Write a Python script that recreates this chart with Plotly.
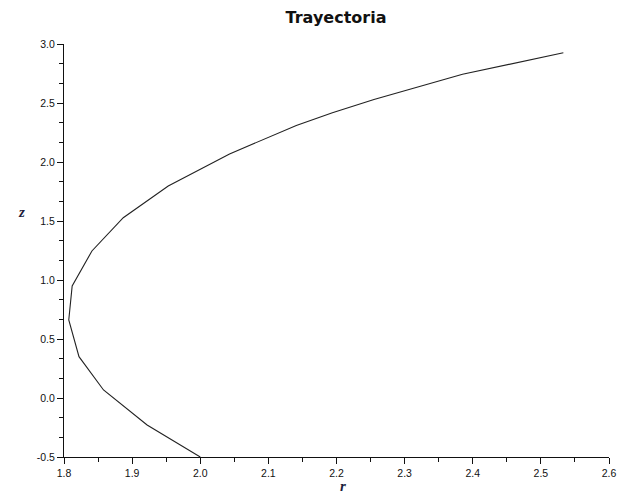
import plotly.graph_objects as go

# Trajectory samples (r, z)
r_vals = [2.000, 1.922, 1.858, 1.822, 1.807, 1.812, 1.841, 1.887, 1.953,
          2.043, 2.141, 2.194, 2.255, 2.385, 2.533]
z_vals = [-0.500, -0.229, 0.068, 0.350, 0.661, 0.949, 1.246, 1.528, 1.797,
          2.068, 2.310, 2.417, 2.530, 2.743, 2.926]

x_ticks = [1.8, 1.9, 2.0, 2.1, 2.2, 2.3, 2.4, 2.5, 2.6]
y_ticks = [-0.5, 0.0, 0.5, 1.0, 1.5, 2.0, 2.5, 3.0]

fig = go.Figure()
fig.add_trace(go.Scatter(
    x=r_vals, y=z_vals, mode="lines",
    line=dict(color="#222222", width=1.1),
    showlegend=False, hoverinfo="skip",
))

tick_font = dict(family="Liberation Sans, Arial, sans-serif", size=10.5, color="#111111")
label_font = dict(family="'Liberation Serif', 'Times New Roman', serif", size=15,
                  color="#1c1c3c", weight="bold", style="italic")

fig.update_layout(
    width=628, height=496,
    margin=dict(l=64, r=17, t=44, b=39),
    paper_bgcolor="white", plot_bgcolor="white",
    title=dict(text="Trayectoria", x=336 / 628, xanchor="center", y=1 - 17 / 496, yanchor="middle",
               font=dict(family="'DejaVu Sans', Verdana, sans-serif", size=16,
                         color="#111111", weight="bold")),
    xaxis=dict(range=[1.8, 2.6], tickvals=x_ticks, ticktext=[f"{v:.1f}" for v in x_ticks],
               showgrid=False, zeroline=False, showline=True, linecolor="#111111", linewidth=1,
               ticks="outside", ticklen=6, tickwidth=1, tickcolor="#111111",
               minor=dict(ticks="outside", ticklen=4, tickwidth=1, tickcolor="#111111",
                          dtick=0.05, tick0=1.8, showgrid=False),
               tickfont=tick_font, fixedrange=True),
    yaxis=dict(range=[-0.5, 3.0], tickvals=y_ticks, ticktext=[f"{v:.1f}" for v in y_ticks],
               showgrid=False, zeroline=False, showline=True, linecolor="#111111", linewidth=1,
               ticks="outside", ticklen=6, tickwidth=1, tickcolor="#111111",
               minor=dict(ticks="outside", ticklen=4, tickwidth=1, tickcolor="#111111",
                          dtick=0.5 / 3, tick0=-0.5, showgrid=False),
               tickfont=tick_font, fixedrange=True),
    annotations=[
        dict(text="z", xref="paper", yref="paper", x=(21 - 64) / 547, y=(457 - 212) / 413,
             showarrow=False, font=label_font, xanchor="center", yanchor="middle"),
        dict(text="r", xref="paper", yref="paper", x=(344 - 64) / 547, y=(457 - 486) / 413,
             showarrow=False, font=label_font, xanchor="center", yanchor="middle"),
    ],
)

fig.write_html("out.html")
